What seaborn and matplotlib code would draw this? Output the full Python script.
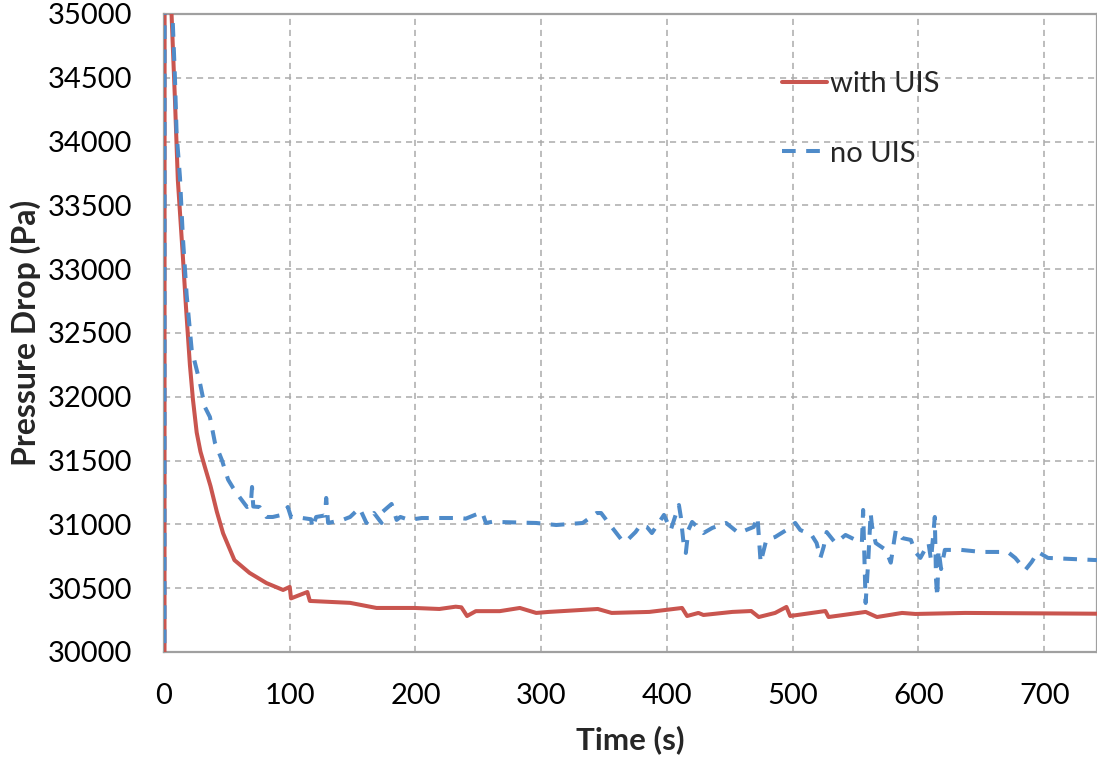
import numpy as np
import pandas as pd
import matplotlib
matplotlib.use("Agg")
import matplotlib.pyplot as plt
import seaborn as sns

# Pressure drop over time, with and without UIS
t_with = [0, 0.5, 6, 8.7, 11, 15, 17.5, 20.6, 23, 26, 29, 32.5, 37, 42, 47, 56,
          68, 81.5, 94.7, 100, 101, 114, 116, 148, 169, 199, 219, 232, 236.5,
          241, 248, 267, 283, 296, 306, 345, 356, 386, 412, 416, 425, 429, 452,
          467, 473, 486, 495, 498, 526, 528.5, 558, 567, 587, 597.5, 637, 742]
p_with = [0, 37000, 35000, 34330, 33700, 33100, 32700, 32250, 31980, 31720,
          31570, 31450, 31300, 31100, 30930, 30720, 30620, 30540, 30486, 30510,
          30420, 30470, 30400, 30385, 30345, 30345, 30337, 30355, 30350, 30282,
          30320, 30320, 30345, 30306, 30314, 30337, 30306, 30314, 30345, 30282,
          30306, 30290, 30314, 30321, 30274, 30306, 30353, 30282, 30321, 30274,
          30314, 30274, 30306, 30298, 30306, 30300]

t_no = [0, 0.5, 6, 7, 8.7, 10, 12.7, 15, 18, 22, 28.6, 32.5, 36.5, 40.5, 46,
        51, 55, 60, 66, 69, 70, 71, 76, 81.5, 86.5, 93.5, 98.5, 101, 110, 117,
        118, 121, 128, 129, 130.5, 142, 148, 155.5, 161, 167, 173, 174, 181,
        185, 188, 195, 205, 235, 240, 253, 256, 261, 296, 312, 333, 344, 347.6,
        356, 364, 367, 375, 379, 384, 388, 395, 397.6, 403, 409.5, 411, 413.5,
        415, 417, 420, 425, 429, 436, 447, 457, 469, 472, 474.5, 476, 479, 486,
        495, 502, 506, 515, 519, 522, 524.6, 527, 534, 542, 550, 555, 556, 558,
        560, 562, 563, 566, 574, 578, 582, 587, 594, 597.5, 601.5, 608, 610,
        613, 614, 615, 616, 618, 621, 634, 650, 671, 677, 685, 690, 695, 703,
        742]
p_no = [0, 37500, 35000, 34930, 34500, 34067, 33720, 33250, 32800, 32370,
        32108, 31920, 31842, 31640, 31505, 31350, 31285, 31215, 31136, 31150,
        31293, 31140, 31136, 31058, 31058, 31074, 31136, 31058, 31050, 31040,
        30972, 31058, 31070, 31207, 31011, 31035, 31058, 31128, 31011, 31089,
        31011, 31100, 31160, 31035, 31058, 31035, 31050, 31050, 31045, 31097,
        31011, 31020, 31011, 30995, 31011, 31089, 31089, 30980, 30878, 30862,
        30940, 30995, 30980, 30932, 31035, 31074, 30956, 31152, 31060, 30823,
        30776, 30956, 31019, 30972, 30932, 30972, 31011, 30932, 30980, 31058,
        30700, 30760, 30878, 30901, 30956, 31011, 30956, 30917, 30854, 30737,
        30823, 30940, 30854, 30917, 30878, 30854, 31113, 30384, 30700, 31089,
        30990, 30854, 30800, 30700, 30956, 30893, 30878, 30784, 30737, 30854,
        30721, 31058, 30564, 30431, 30800, 30650, 30800, 30800, 30784, 30784,
        30737, 30643, 30705, 30784, 30737, 30720]

x_ticks = list(range(0, 701, 100))
y_ticks = list(range(30000, 35001, 500))

sns.set_theme(style="white")
plt.rcParams["font.family"] = ["Lato", "DejaVu Sans"]

RED = "#C9554F"
BLUE = "#4F8BC9"
GRID = "#ABABAB"

fig = plt.figure(figsize=(10.97, 7.63), dpi=100)
ax = fig.add_axes([0.1495, 0.1455, 0.8505, 0.8362])

df_with = pd.DataFrame({"Time (s)": t_with, "Pressure Drop (Pa)": p_with})
df_no = pd.DataFrame({"Time (s)": t_no, "Pressure Drop (Pa)": p_no})

sns.lineplot(data=df_with, x="Time (s)", y="Pressure Drop (Pa)", ax=ax,
             color=RED, linewidth=2.9, estimator=None, sort=False,
             label="with UIS", zorder=3)
sns.lineplot(data=df_no, x="Time (s)", y="Pressure Drop (Pa)", ax=ax,
             color=BLUE, linewidth=2.9, estimator=None, sort=False,
             linestyle=(0, (3.4, 2.6)), label="no UIS", zorder=4)

ax.set_xlim(0, 742)
ax.set_ylim(30000, 35000)
ax.set_xticks(x_ticks)
ax.set_yticks(y_ticks)
ax.tick_params(axis="both", length=0, labelsize=21, colors="black")
ax.tick_params(axis="y", pad=23)
ax.tick_params(axis="x", pad=22)

ax.grid(True, color=GRID, linestyle=(0, (4, 3.2)), linewidth=1.1)
ax.set_axisbelow(True)

for side in ["top", "bottom", "left", "right"]:
    ax.spines[side].set_color("#A0A0A0")
    ax.spines[side].set_linewidth(1.6)

ax.set_xlabel("Time (s)", fontsize=22.5, fontweight="bold")
ax.set_ylabel("Pressure Drop (Pa)", fontsize=23, fontweight="bold")
ax.xaxis.set_label_coords(0.5, -0.115)
ax.yaxis.set_label_coords(-0.1315, 0.5)

leg = ax.legend(loc="upper left", bbox_to_anchor=(0.634, 0.952), frameon=False,
                fontsize=21, handlelength=1.55, handletextpad=0.12,
                labelspacing=1.5)

fig.savefig("out.png", dpi=100)
